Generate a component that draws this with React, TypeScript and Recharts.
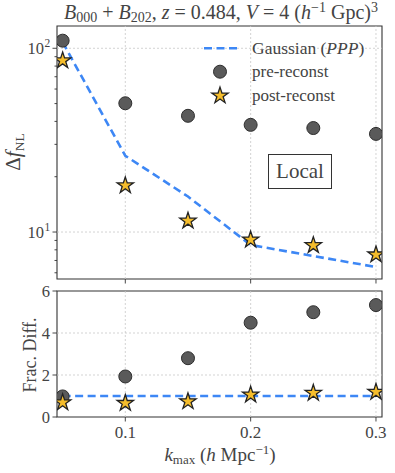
import React from "react";
import { ComposedChart, Line, Scatter, XAxis, YAxis, ReferenceLine, ReferenceArea } from "recharts";

const kmax = [0.05, 0.1, 0.15, 0.2, 0.25, 0.3];
const gaussianDfnl = [108, 26.0, 15.6, 8.5, 7.4, 6.45];
const preDfnl = [110, 50.2, 42.9, 38.3, 36.8, 34.2];
const postDfnl = [85.7, 17.9, 11.5, 9.08, 8.46, 7.53];
const gaussianFrac = [1, 1, 1, 1, 1, 1];
const preFrac = [0.98, 1.93, 2.8, 4.49, 4.99, 5.33];
const postFrac = [0.69, 0.66, 0.74, 1.06, 1.14, 1.19];

const xTicks = [0.1, 0.2, 0.3];
const logMajor = [10, 100];
const logTicks = [6, 7, 8, 9, 10, 20, 30, 40, 50, 60, 70, 80, 90, 100];
const fracTicks = [0, 2, 4, 6];
const xDomain = [0.0455, 0.3048];
const logDomain = [5.55, 132.2];
const fracDomain = [0, 6];

const FONT = "Liberation Serif, Times New Roman, serif";
const TEXT = "#444";
const SPINE = "#333";
const GRID = "#c8c8c8";
const BLUE = "#3d87f5";
const GOLD = "#f5bd2c";
const DOT = "#5a5a5a";

const topData = kmax.map((k, i) => ({ k, gauss: gaussianDfnl[i], pre: preDfnl[i], post: postDfnl[i] }));
const fracData = kmax.map((k, i) => ({ k, gauss: gaussianFrac[i], pre: preFrac[i], post: postFrac[i] }));

function starPoints(cx: number, cy: number, R: number) {
  const r = R * 0.382;
  const pts: string[] = [];
  for (let i = 0; i < 10; i++) {
    const a = -Math.PI / 2 + (i * Math.PI) / 5;
    const rr = i % 2 === 0 ? R : r;
    pts.push(`${cx + rr * Math.cos(a)},${cy + rr * Math.sin(a)}`);
  }
  return pts.join(" ");
}

const Star = ({ cx, cy }: any) => (
  <polygon points={starPoints(cx, cy, 8.6)} fill={GOLD} stroke="#222" strokeWidth={1.3} strokeLinejoin="miter" />
);
const Dot = ({ cx, cy }: any) => <circle cx={cx} cy={cy} r={6.5} fill={DOT} stroke="#2e2e2e" strokeWidth={1} />;

const txt = { fontFamily: FONT, fill: TEXT };

const LogTick = ({ x, y, payload }: any) => {
  const v = payload.value;
  const major = logMajor.includes(v);
  return (
    <g>
      <line x1={x - (major ? 4.5 : 2.5)} x2={x} y1={y} y2={y} stroke={SPINE} strokeWidth={0.9} />
      {major && (
        <text x={x - 13} y={y + 6} textAnchor="end" fontSize={16.5} style={txt}>
          10
          <tspan x={x - 12.5} dy={-7} textAnchor="start" fontSize={11.5}>
            {Math.round(Math.log10(v))}
          </tspan>
        </text>
      )}
    </g>
  );
};

const FracTick = ({ x, y, payload }: any) => (
  <g>
    <line x1={x - 4.5} x2={x} y1={y} y2={y} stroke={SPINE} strokeWidth={0.9} />
    <text x={x - 7} y={y + 6} textAnchor="end" fontSize={16.5} style={txt}>
      {payload.value}
    </text>
  </g>
);

const XTickBare = ({ x, y }: any) => <line x1={x} x2={x} y1={y} y2={y + 4.5} stroke={SPINE} strokeWidth={0.9} />;
const XTickLabel = ({ x, y, payload }: any) => (
  <g>
    <line x1={x} x2={x} y1={y} y2={y + 4.5} stroke={SPINE} strokeWidth={0.9} />
    <text x={x} y={y + 21} textAnchor="middle" fontSize={17} style={txt}>
      {payload.value.toFixed(1)}
    </text>
  </g>
);

export default function App() {
  return (
    <div style={{ position: "absolute", left: 0, top: 0, width: 395, height: 473, background: "#fff", fontFamily: FONT }}>
      <div style={{ position: "absolute", left: 0, top: 0 }}>
        <ComposedChart width={395} height={285} data={topData} margin={{ top: 26, right: 13, bottom: 0, left: 0 }}>
          <XAxis dataKey="k" type="number" domain={xDomain} allowDataOverflow ticks={xTicks} interval={0} height={6}
            tickSize={0} tickMargin={0} axisLine={false} tickLine={false} tick={XTickBare} />
          <YAxis type="number" scale="log" domain={logDomain} allowDataOverflow ticks={logTicks} interval={0} width={57}
            tickSize={0} tickMargin={0} axisLine={false} tickLine={false} tick={LogTick} />
          {xTicks.map((t) => (
            <ReferenceLine key={`x${t}`} x={t} stroke={GRID} strokeWidth={0.8} strokeDasharray="2 2" />
          ))}
          {logMajor.map((t) => (
            <ReferenceLine key={`y${t}`} y={t} stroke={GRID} strokeWidth={0.8} strokeDasharray="2 2" />
          ))}
          <ReferenceArea x1={xDomain[0]} x2={xDomain[1]} y1={logDomain[0]} y2={logDomain[1]} fill="none" stroke={SPINE} strokeWidth={1.1} fillOpacity={0} />
          <Line dataKey="gauss" type="linear" stroke={BLUE} strokeWidth={2.6} strokeDasharray="8 4.5" dot={false} isAnimationActive={false} />
          <Scatter dataKey="pre" shape={Dot} isAnimationActive={false} />
          <Scatter dataKey="post" shape={Star} isAnimationActive={false} />
        </ComposedChart>
      </div>
      <div style={{ position: "absolute", left: 0, top: 279 }}>
        <ComposedChart width={395} height={194} data={fracData} margin={{ top: 12, right: 13, bottom: 0, left: 0 }}>
          <XAxis dataKey="k" type="number" domain={xDomain} allowDataOverflow ticks={xTicks} interval={0} height={56}
            tickSize={0} tickMargin={0} axisLine={false} tickLine={false} tick={XTickLabel} />
          <YAxis type="number" domain={fracDomain} allowDataOverflow ticks={fracTicks} interval={0} width={57}
            tickSize={0} tickMargin={0} axisLine={false} tickLine={false} tick={FracTick} />
          {xTicks.map((t) => (
            <ReferenceLine key={`x${t}`} x={t} stroke={GRID} strokeWidth={0.8} strokeDasharray="2 2" />
          ))}
          {[2, 4].map((t) => (
            <ReferenceLine key={`y${t}`} y={t} stroke={GRID} strokeWidth={0.8} strokeDasharray="2 2" />
          ))}
          <ReferenceArea x1={xDomain[0]} x2={xDomain[1]} y1={fracDomain[0]} y2={fracDomain[1]} fill="none" stroke={SPINE} strokeWidth={1.1} fillOpacity={0} />
          <Line dataKey="gauss" type="linear" stroke={BLUE} strokeWidth={2.6} strokeDasharray="8 4.5" dot={false} isAnimationActive={false} />
          <Scatter dataKey="pre" shape={Dot} isAnimationActive={false} />
          <Scatter dataKey="post" shape={Star} isAnimationActive={false} />
        </ComposedChart>
      </div>
      <svg width={395} height={473} style={{ position: "absolute", left: 0, top: 0, pointerEvents: "none", fontFamily: FONT, fill: TEXT }}>
        <text x={221} y={19} textAnchor="middle" fontSize={20}>
          <tspan fontStyle="italic">B</tspan>
          <tspan fontSize={14} dy={3}>000</tspan>
          <tspan dy={-3}> + </tspan>
          <tspan fontStyle="italic">B</tspan>
          <tspan fontSize={14} dy={3}>202</tspan>
          <tspan dy={-3}>, </tspan>
          <tspan fontStyle="italic">z</tspan>
          <tspan> = 0.484, </tspan>
          <tspan fontStyle="italic">V</tspan>
          <tspan> = 4 (</tspan>
          <tspan fontStyle="italic">h</tspan>
          <tspan fontSize={14} dy={-7}>−1</tspan>
          <tspan dy={7}> Gpc)</tspan>
          <tspan fontSize={14} dy={-7}>3</tspan>
        </text>
        <text transform="translate(20,152) rotate(-90)" textAnchor="middle" fontSize={21}>
          <tspan>Δ</tspan>
          <tspan fontStyle="italic">f</tspan>
          <tspan fontSize={13.5} dy={4}>NL</tspan>
        </text>
        <text transform="translate(36,355) rotate(-90)" textAnchor="middle" fontSize={18}>
          Frac.  Diff.
        </text>
        <text x={220} y={461} textAnchor="middle" fontSize={19}>
          <tspan fontStyle="italic">k</tspan>
          <tspan fontSize={13} dy={3}>max</tspan>
          <tspan dy={-3}> (</tspan>
          <tspan fontStyle="italic">h</tspan>
          <tspan> Mpc</tspan>
          <tspan fontSize={13} dy={-7}>−1</tspan>
          <tspan dy={7}>)</tspan>
        </text>
        <line x1={204} x2={238} y1={48.3} y2={48.3} stroke={BLUE} strokeWidth={2.6} strokeDasharray="8 4.5" />
        <text x={252} y={53.5} fontSize={17.5}>
          Gaussian (<tspan fontStyle="italic">PPP</tspan>)
        </text>
        <Dot cx={220} cy={71.7} />
        <text x={252} y={77.3} fontSize={17}>pre-reconst</text>
        <Star cx={220} cy={95.7} />
        <text x={252} y={100.5} fontSize={17}>post-reconst</text>
        <rect x={268.5} y={154.5} width={63} height={34} fill="#fff" stroke={SPINE} strokeWidth={1} />
        <text x={300} y={178} textAnchor="middle" fontSize={21}>Local</text>
      </svg>
    </div>
  );
}
